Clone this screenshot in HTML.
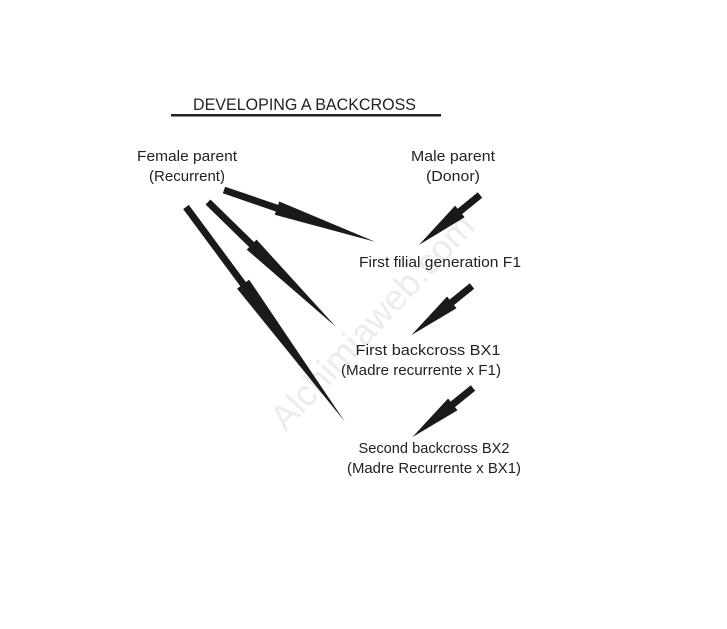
<!DOCTYPE html>
<html><head><meta charset="utf-8"><style>body{margin:0;background:#fff}svg{display:block}</style></head><body>
<svg width="727" height="629" viewBox="0 0 727 629" xmlns="http://www.w3.org/2000/svg" font-family="Liberation Sans, sans-serif" fill="#222">
<text x="370" y="335" font-size="36" fill="#ececec" transform="rotate(-47 370 320)" text-anchor="middle">Alchimiaweb.com</text>
<text x="193" y="110" font-size="17" textLength="223" lengthAdjust="spacingAndGlyphs">DEVELOPING A BACKCROSS</text>
<rect x="171" y="114" width="270" height="2.5" fill="#222"/>
<g font-size="15" text-anchor="middle">
<text x="187" y="161" textLength="100" lengthAdjust="spacingAndGlyphs">Female parent</text>
<text x="187" y="181" textLength="76" lengthAdjust="spacingAndGlyphs">(Recurrent)</text>
<text x="453" y="161" textLength="84" lengthAdjust="spacingAndGlyphs">Male parent</text>
<text x="453" y="181" textLength="54" lengthAdjust="spacingAndGlyphs">(Donor)</text>
<text x="440" y="267" textLength="162" lengthAdjust="spacingAndGlyphs">First filial generation F1</text>
<text x="428" y="355" textLength="145" lengthAdjust="spacingAndGlyphs">First backcross BX1</text>
<text x="421" y="375" textLength="160" lengthAdjust="spacingAndGlyphs">(Madre recurrente x F1)</text>
<text x="434" y="453" textLength="151" lengthAdjust="spacingAndGlyphs">Second backcross BX2</text>
<text x="434" y="473" textLength="174" lengthAdjust="spacingAndGlyphs">(Madre Recurrente x BX1)</text>
</g>
<g fill="#1a1a1a">
<g transform="translate(224,190) rotate(18.9)"><polygon points="0,-3.5 56,-3.5 56,-7 160,0 56,7 56,3.5 0,3.5"/></g>
<g transform="translate(208,202) rotate(44.3)"><polygon points="0,-3.5 61,-3.5 61,-7 179,0 61,7 61,3.5 0,3.5"/></g>
<g transform="translate(186,207) rotate(53.5)"><polygon points="0,-3.5 96,-3.5 96,-7.5 267,0 96,7.5 96,3.5 0,3.5"/></g>
<g transform="translate(480,195) rotate(140.7)"><polygon points="0,-3.5 26,-3.5 26,-7.5 79,0 26,7.5 26,3.5 0,3.5"/></g>
<g transform="translate(472,286) rotate(141)"><polygon points="0,-3.5 26,-3.5 26,-7.5 78,0 26,7.5 26,3.5 0,3.5"/></g>
<g transform="translate(473,388) rotate(141)"><polygon points="0,-3.5 26,-3.5 26,-7.5 78,0 26,7.5 26,3.5 0,3.5"/></g>
</g>
</svg>
</body></html>
